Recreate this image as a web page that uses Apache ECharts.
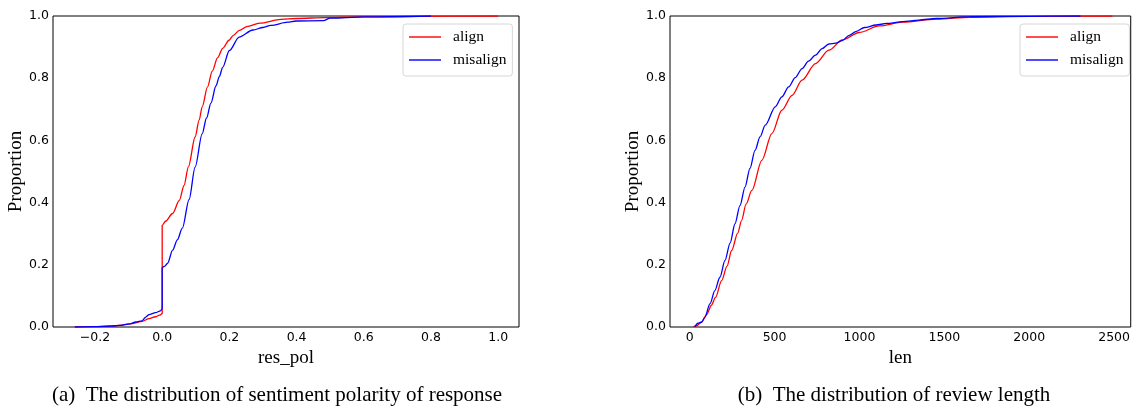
<!DOCTYPE html>
<html>
<head>
<meta charset="utf-8">
<script src="https://cdn.jsdelivr.net/npm/echarts@6/dist/echarts.min.js"></script>
<style>
html,body{margin:0;padding:0;background:#fff;}
#chart{width:1133px;height:406px;}
</style>
</head>
<body>
<div id="chart"></div>
<script>
// ---- data ----
var seriesNames = ['align', 'misalign'];

// (a) sentiment polarity of response (ECDF)
var alignPolX = [-0.26, -0.2, -0.138, -0.088, -0.06, -0.039, -0.02, -0.008, 0, 0, 0.01, 0.031, 0.051, 0.065, 0.078, 0.098, 0.11, 0.119, 0.135, 0.149, 0.165, 0.18, 0.199, 0.211, 0.23, 0.252, 0.29, 0.354, 0.4, 0.487, 0.6, 0.75, 1.0];
var alignPolY = [0, 0.001, 0.004, 0.011, 0.018, 0.027, 0.033, 0.038, 0.043, 0.327, 0.34, 0.365, 0.407, 0.455, 0.515, 0.611, 0.665, 0.708, 0.772, 0.823, 0.866, 0.896, 0.922, 0.937, 0.954, 0.966, 0.977, 0.989, 0.992, 0.995, 0.997, 0.999, 1.0];
var misPolX = [-0.26, -0.2, -0.15, -0.128, -0.1, -0.078, -0.06, -0.049, -0.039, -0.02, -0.005, 0, 0, 0.008, 0.016, 0.031, 0.045, 0.06, 0.08, 0.098, 0.119, 0.132, 0.145, 0.16, 0.17, 0.18, 0.2, 0.229, 0.27, 0.3, 0.323, 0.374, 0.398, 0.48, 0.5, 0.6, 0.8];
var misPolY = [0, 0.001, 0.003, 0.005, 0.009, 0.016, 0.02, 0.032, 0.04, 0.046, 0.052, 0.059, 0.191, 0.196, 0.205, 0.247, 0.28, 0.318, 0.41, 0.514, 0.621, 0.672, 0.72, 0.775, 0.805, 0.835, 0.889, 0.932, 0.955, 0.963, 0.97, 0.98, 0.984, 0.985, 0.993, 0.997, 1.0];

// (b) review length (ECDF)
var alignLenX = [20, 40, 69, 100, 128, 152, 188, 220, 247, 283, 306, 332, 366, 425, 484, 543, 603, 662, 741, 820, 899, 998, 1117, 1255, 1453, 1650, 2000, 2490];
var alignLenY = [0, 0.004, 0.015, 0.04, 0.07, 0.095, 0.149, 0.196, 0.246, 0.302, 0.343, 0.395, 0.439, 0.536, 0.622, 0.697, 0.745, 0.794, 0.847, 0.89, 0.923, 0.947, 0.968, 0.98, 0.99, 0.996, 0.999, 1.0];
var misLenX = [30, 49, 70, 89, 120, 148, 178, 208, 238, 267, 296, 326, 355, 385, 415, 445, 504, 543, 583, 622, 662, 700, 741, 780, 820, 860, 899, 940, 978, 1030, 1097, 1160, 1255, 1350, 1453, 1650, 2000, 2302];
var misLenY = [0, 0.012, 0.016, 0.031, 0.075, 0.117, 0.16, 0.214, 0.27, 0.332, 0.39, 0.45, 0.51, 0.568, 0.612, 0.649, 0.708, 0.74, 0.772, 0.802, 0.831, 0.855, 0.874, 0.895, 0.91, 0.913, 0.921, 0.938, 0.95, 0.963, 0.971, 0.976, 0.982, 0.987, 0.992, 0.998, 0.999, 1.0];

// tick labels
var polTicks = [-0.2, 0.0, 0.2, 0.4, 0.6, 0.8, 1.0];
var lenTicks = [0, 500, 1000, 1500, 2000, 2500];
var yTicks = [0.0, 0.2, 0.4, 0.6, 0.8, 1.0];

// texts
var yName = 'Proportion';
var xNames = ['res_pol', 'len'];
var captions = ['(a)  The distribution of sentiment polarity of response', '(b)  The distribution of review length'];

function pairs(xs, ys) { return xs.map(function (x, i) { return [x, ys[i]]; }); }

var tickFont = { fontFamily: 'DejaVu Sans', fontSize: 12.5, color: '#000' };
var serifName = { fontFamily: 'Liberation Serif', fontSize: 19, color: '#000' };

function xAxisCfg(idx, min, max, ticks, fmt) {
  return {
    type: 'value', gridIndex: idx, min: min, max: max,
    name: xNames[idx], nameLocation: 'middle', nameGap: 12, nameTextStyle: serifName,
    axisLine: { show: false }, axisTick: { show: false, customValues: ticks },
    splitLine: { show: false },
    axisLabel: Object.assign({ margin: 4, customValues: ticks, formatter: fmt }, tickFont)
  };
}
function yAxisCfg(idx) {
  return {
    type: 'value', gridIndex: idx, min: 0, max: 1, interval: 0.2,
    name: yName, nameLocation: 'middle', nameGap: 22, nameRotate: 90, nameTextStyle: serifName,
    axisLine: { show: false }, axisTick: { show: false }, splitLine: { show: false },
    axisLabel: Object.assign({ margin: 4, customValues: yTicks, formatter: function (v) { return v.toFixed(1); } }, tickFont)
  };
}
var legendIcon = 'path://M0,0L32,0L32,1.4L0,1.4Z';
function legendCfg(left) {
  return {
    left: left, top: 24, orient: 'vertical',
    data: seriesNames.map(function (n) { return { name: n, icon: legendIcon }; }),
    itemWidth: 32, itemHeight: 14, itemGap: 7,
    padding: [5, 6, 8, 6],
    borderColor: '#d6d6d6', borderWidth: 1, borderRadius: 3, backgroundColor: '#fff',
    textStyle: { fontFamily: 'Liberation Serif', fontSize: 15.5, color: '#000', padding: [0, 0, 0, 7] }
  };
}
function lineSeries(name, color, xi, data) {
  return {
    type: 'line', name: name, xAxisIndex: xi, yAxisIndex: xi, data: data,
    symbol: 'none', showSymbol: false, smooth: 0.3, smoothMonotone: 'x',
    lineStyle: { color: color, width: 1.3 }, itemStyle: { color: color }
  };
}

var chart = echarts.init(document.getElementById('chart'), null, { renderer: 'canvas' });
chart.setOption({
  animation: false,
  backgroundColor: '#fff',
  grid: [
    { left: 53, top: 16, width: 466, height: 311, show: true, borderColor: '#000', borderWidth: 1, backgroundColor: 'transparent' },
    { left: 670, top: 16, width: 466, height: 311, show: true, borderColor: '#000', borderWidth: 1, backgroundColor: 'transparent' }
  ],
  xAxis: [
    xAxisCfg(0, -0.325, 1.062, polTicks, function (v) { var s = Math.abs(v).toFixed(1); return v < -1e-9 ? '\u2212' + s : s; }),
    xAxisCfg(1, -116, 2598, lenTicks, function (v) { return String(v); })
  ],
  yAxis: [yAxisCfg(0), yAxisCfg(1)],
  legend: [legendCfg(403), legendCfg(1020)],
  series: [
    lineSeries(seriesNames[0], '#ff0000', 0, pairs(alignPolX, alignPolY)),
    lineSeries(seriesNames[1], '#0000ff', 0, pairs(misPolX, misPolY)),
    lineSeries(seriesNames[0], '#ff0000', 1, pairs(alignLenX, alignLenY)),
    lineSeries(seriesNames[1], '#0000ff', 1, pairs(misLenX, misLenY))
  ],
  graphic: [
    { type: 'text', x: 277, y: 395, style: { text: captions[0], align: 'center', verticalAlign: 'middle', fontFamily: 'Liberation Serif', fontSize: 21, fill: '#000' } },
    { type: 'text', x: 894, y: 395, style: { text: captions[1], align: 'center', verticalAlign: 'middle', fontFamily: 'Liberation Serif', fontSize: 21, fill: '#000' } }
  ]
});
</script>
</body>
</html>
